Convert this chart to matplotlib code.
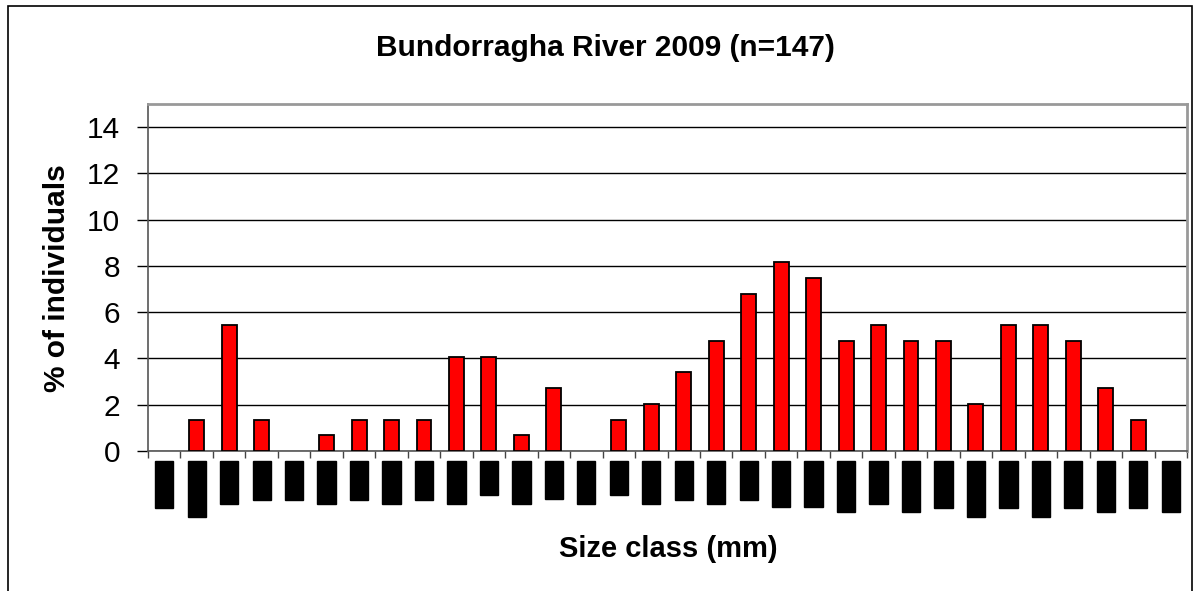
import matplotlib
matplotlib.use('Agg')
import matplotlib.pyplot as plt
from matplotlib.patches import Rectangle

plt.rcParams['font.family'] = ['Liberation Sans', 'DejaVu Sans']

# size classes (labels redacted in the source, shown as black blocks)
size_labels = ['10-15.', '15-20.5', '20-25', '2-30.', '3-35.', '35-40', '4-45.', '45-50',
               '5-55.', '55-60', '6-65', '65-70', '7-75.', '75-80', '8-85', '85-90',
               '9-95.', '95-10', '1-10.', '10-11.', '11-12.', '12-125', '12-13', '13-135',
               '13-14.', '14-14.5', '14-15.', '15-15.5', '15-16.', '16-165', '16-17.', '17-175']
pct = [0, 1.36, 5.44, 1.36, 0, 0.68, 1.36, 1.36, 1.36, 4.08, 4.08, 0.68, 2.72, 0, 1.36, 2.04,
       3.40, 4.76, 6.80, 8.16, 7.48, 4.76, 5.44, 4.76, 4.76, 2.04, 5.44, 5.44, 4.76, 2.72, 1.36, 0]

fig = plt.figure(figsize=(12, 5.91), dpi=100)
W, H = 1200, 591
ax = fig.add_axes([148 / W, (H - 451) / H, (1187 - 148) / W, (451 - 104) / H])

x = list(range(len(pct)))
lw = [1.3 if v > 0 else 0 for v in pct]
ax.bar(x, pct, width=0.46, color='#ff0000', edgecolor='black', linewidth=lw, zorder=3)

ax.set_xlim(-0.5, len(pct) - 0.5)
ax.set_ylim(0, 15)
ax.set_yticks(range(0, 15, 2))
ax.tick_params(axis='y', labelsize=21.5, length=8, width=1, direction='out', pad=12)
ax.yaxis.grid(True, color='black', linewidth=1, zorder=0)
ax.set_axisbelow(True)

ax.set_xticks(x)
ax.set_xticklabels(size_labels, rotation=90, fontsize=11, color='black')
ax.set_xticks([i - 0.5 for i in range(len(pct) + 1)], minor=True)
ax.tick_params(axis='x', which='major', length=0, pad=8.5)
ax.tick_params(axis='x', which='minor', length=5, width=1, color='#444444')
for lab in ax.get_xticklabels():
    lab.set_bbox(dict(facecolor='black', edgecolor='black', pad=1.5))

for side in ['top', 'right']:
    ax.spines[side].set_color('#999999')
    ax.spines[side].set_linewidth(2)
for side in ['left', 'bottom']:
    ax.spines[side].set_color('#555555')
    ax.spines[side].set_linewidth(1.2)

fig.text(605 / W, (H - 48) / H, 'Bundorragha River 2009 (n=147)', ha='center', va='center',
         fontsize=21.5, fontweight='bold')
fig.text(668 / W, (H - 549) / H, 'Size class (mm)', ha='center', va='center',
         fontsize=21, fontweight='bold')
fig.text(57 / W, (H - 278) / H, '% of individuals', ha='center', va='center',
         rotation=90, fontsize=21.5, fontweight='bold')

fig.patches.append(Rectangle((8 / W, -0.1), (1192 - 8) / W, 1.1 - 6 / H, transform=fig.transFigure,
                             fill=False, edgecolor='black', linewidth=1.2))

fig.savefig('out.png', dpi=100)
